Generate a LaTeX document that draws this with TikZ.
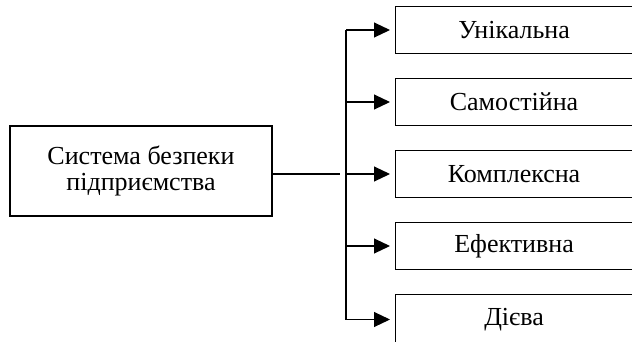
\documentclass[tikz,border=0pt]{standalone}
\usepackage{fontspec}
\setmainfont{Liberation Serif}
\usetikzlibrary{arrows.meta}
\begin{document}
\begin{tikzpicture}[x=1pt,y=-1pt, line width=1.1pt,
  box/.style={draw, line width=1.1pt, minimum height=47pt, inner sep=0pt,
    font=\fontsize{26}{26}\selectfont, align=center},
  rbox/.style={box, minimum width=237pt, anchor=west},
  arr/.style={-{Triangle[length=16pt,width=15pt]}}]
\useasboundingbox (0,0) rectangle (632,341);
\node[box, minimum width=262pt, minimum height=90pt] (main) at (141,171) {Система безпеки\\підприємства};
\node[rbox] (b1) at (395,30) {Унікальна};
\node[rbox] (b2) at (395,102) {Самостійна};
\node[rbox] (b3) at (395,174) {Комплексна};
\node[rbox] (b4) at (395,246) {Ефективна};
\node[rbox, minimum height=50pt] (b5) at (395,319.5) {Дієва};
\coordinate (top) at (346,30);
\coordinate (gap) at (340,174);
\draw ([yshift=-3pt]main.east) -- (gap);
\draw (top) -- (b5.west -| top);
\foreach \b in {b1,b2,b3,b4,b5}
  \draw[arr] (\b.west -| top) -- ([xshift=-5pt]\b.west);
\end{tikzpicture}
\end{document}
